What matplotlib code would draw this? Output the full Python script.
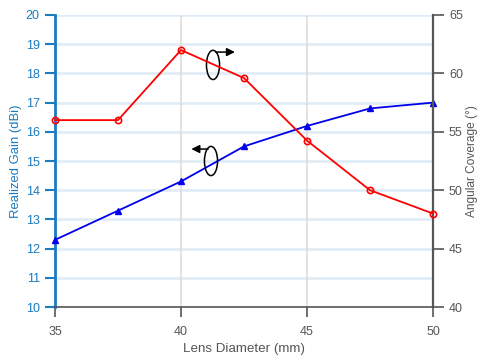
import matplotlib
matplotlib.use("Agg")
import matplotlib.pyplot as plt
from matplotlib.patches import Ellipse

plt.rcParams['font.family'] = ['Liberation Sans', 'DejaVu Sans']

diam = [35, 37.5, 40, 42.5, 45, 47.5, 50]
gain = [12.3, 13.3, 14.3, 15.5, 16.2, 16.8, 17.0]
coverage = [56.0, 56.0, 62.0, 59.6, 54.25, 50.0, 48.0]

blue_axis = '#1a7bc0'
gray = '#555555'

fig = plt.figure(figsize=(4.8, 3.56), dpi=100)
ax = fig.add_axes([0.1146, 0.1376, 0.7875, 0.8203])
ax2 = ax.twinx()

ax.set_xlim(35, 50)
ax.set_ylim(10, 20)
ax2.set_ylim(40, 65)
ax.set_xticks([35, 40, 45, 50])
ax.set_yticks(range(10, 21))
ax2.set_yticks(range(40, 66, 5))

for y in range(11, 21):
    ax.axhline(y, color='#e1ecf6', lw=2, zorder=0)
for x in [40, 45]:
    ax.axvline(x, color='#dddddd', lw=1.2, zorder=0)

ax.plot(diam, gain, color='#0000ee', marker='^', ms=5, lw=1.3, clip_on=False, zorder=3)
ax2.plot(diam, coverage, color='#ff0000', marker='o', ms=4.5, mfc='none', mew=1.2, lw=1.3, clip_on=False, zorder=3)

for s in ['top']:
    ax.spines[s].set_visible(False)
    ax2.spines[s].set_visible(False)
ax.spines['left'].set_color(blue_axis)
ax.spines['left'].set_linewidth(2)
ax2.spines['left'].set_visible(False)
ax.spines['right'].set_visible(False)
ax2.spines['right'].set_color(gray)
ax2.spines['right'].set_linewidth(1.6)
ax.spines['bottom'].set_color(gray)
ax.spines['bottom'].set_linewidth(1.2)
ax2.spines['bottom'].set_visible(False)

ax.tick_params(axis='y', colors=blue_axis, labelsize=9, length=7.5, width=1.5, pad=3.5)
ax.tick_params(axis='x', colors=gray, labelsize=9, length=7.5, width=1.2, pad=6)
ax2.tick_params(axis='y', colors=gray, labelsize=9, length=8, width=1.2, pad=3.5)

ax.set_ylabel('Realized Gain (dBi)', color=blue_axis, fontsize=9.4, labelpad=3)
ax2.set_ylabel('Angular Coverage (°)', color=gray, fontsize=8.6, labelpad=2.5)
ax.set_xlabel('Lens Diameter (mm)', color=gray, fontsize=9.6, labelpad=4)

# annotations
ax.add_patch(Ellipse((41.27, 18.29), 0.52, 1.0, fill=False, ec='black', lw=1.1, zorder=5))
ax.annotate('', xy=(42.25, 18.73), xytext=(41.27, 18.73),
            arrowprops=dict(arrowstyle='-|>', color='black', lw=1.1, mutation_scale=12), zorder=5)
ax.add_patch(Ellipse((41.19, 15.0), 0.52, 1.0, fill=False, ec='black', lw=1.1, zorder=5))
ax.annotate('', xy=(40.3, 15.41), xytext=(41.19, 15.41),
            arrowprops=dict(arrowstyle='-|>', color='black', lw=1.1, mutation_scale=12), zorder=5)

fig.savefig('out.png', dpi=100)
